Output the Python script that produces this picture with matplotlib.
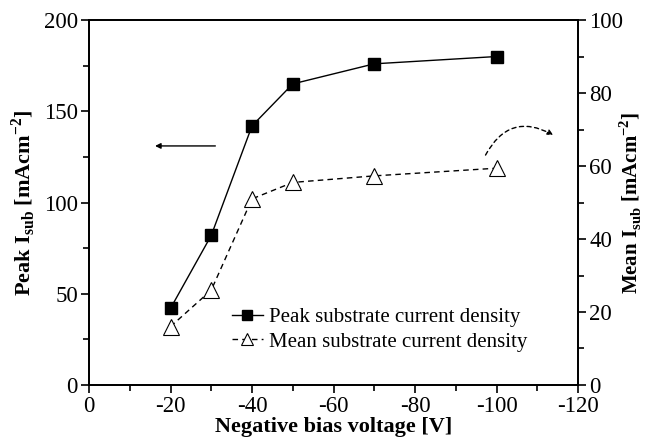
import matplotlib
matplotlib.use("Agg")
import matplotlib.pyplot as plt
from matplotlib.patches import FancyArrowPatch
from matplotlib.ticker import MultipleLocator

plt.rcParams['font.family'] = ['Liberation Serif', 'DejaVu Serif']
plt.rcParams['mathtext.fontset'] = 'custom'
plt.rcParams['mathtext.rm'] = 'Liberation Serif'
plt.rcParams['mathtext.bf'] = 'Liberation Serif:bold'
plt.rcParams['axes.unicode_minus'] = False

# bias voltage [V] and substrate current densities [mA/cm^2]
bias = [-20, -30, -40, -50, -70, -100]
peak = [42, 82, 142, 165, 176, 180]
mean = [16, 26, 51, 55.5, 57.3, 59.4]

fig = plt.figure(figsize=(6.46, 4.44), dpi=100)
ax = fig.add_axes([0.1378, 0.1329, 0.757, 0.822])
ax2 = ax.twinx()

l1, = ax.plot(bias, peak, '-', color='black', lw=1.0, marker='s', ms=9,
              mfc='black', mec='black', label='Peak substrate current density')
l2, = ax2.plot(bias, mean, '--', color='black', lw=1.0, marker='^', ms=11,
               mfc='white', mec='black', mew=0.8, dashes=(4, 3),
               label='Mean substrate current density')

ax.set_xlim(0, -120)
ax.set_ylim(0, 200)
ax2.set_ylim(0, 100)

ax.xaxis.set_major_locator(MultipleLocator(20))
ax.xaxis.set_minor_locator(MultipleLocator(10))
ax.yaxis.set_major_locator(MultipleLocator(50))
ax.yaxis.set_minor_locator(MultipleLocator(25))
ax2.yaxis.set_major_locator(MultipleLocator(20))
ax2.yaxis.set_minor_locator(MultipleLocator(10))

for a in (ax, ax2):
    a.tick_params(which='both', direction='out', width=1.2, labelsize=16.5, pad=2)
    a.tick_params(which='major', length=6)
    a.tick_params(which='minor', length=4)
    for s in a.spines.values():
        s.set_linewidth(1.3)

ax.set_xlabel('Negative bias voltage [V]', fontsize=16, fontweight='bold', labelpad=0)
ax.set_ylabel(r'Peak I$_\mathbf{sub}$ [mAcm$^\mathbf{-2}$]', fontsize=16,
              fontweight='bold', labelpad=4)
ax2.set_ylabel(r'Mean I$_\mathbf{sub}$ [mAcm$^\mathbf{-2}$]', fontsize=15,
               fontweight='bold', labelpad=-4)

# arrows pointing to the axis each curve belongs to
ax.annotate('', xy=(-16.2, 131), xytext=(-31, 131),
            arrowprops=dict(arrowstyle='-|>', color='black', lw=1.0,
                            mutation_scale=8, shrinkA=0, shrinkB=0))
arc = FancyArrowPatch((-97.3, 63), (-113.9, 68.5), transform=ax2.transData,
                      connectionstyle='arc3,rad=-0.5', arrowstyle='-|>',
                      mutation_scale=8, color='black', lw=1.0, linestyle=(0, (3, 2.5)),
                      shrinkA=0, shrinkB=0)
ax2.add_patch(arc)

ax.legend([l1, l2], [l1.get_label(), l2.get_label()], loc='lower right',
          bbox_to_anchor=(0.935, 0.04), frameon=False, fontsize=15,
          handlelength=1.5, handletextpad=0.3, labelspacing=0.25, markerscale=0.75)

fig.savefig('out.png', dpi=100)
